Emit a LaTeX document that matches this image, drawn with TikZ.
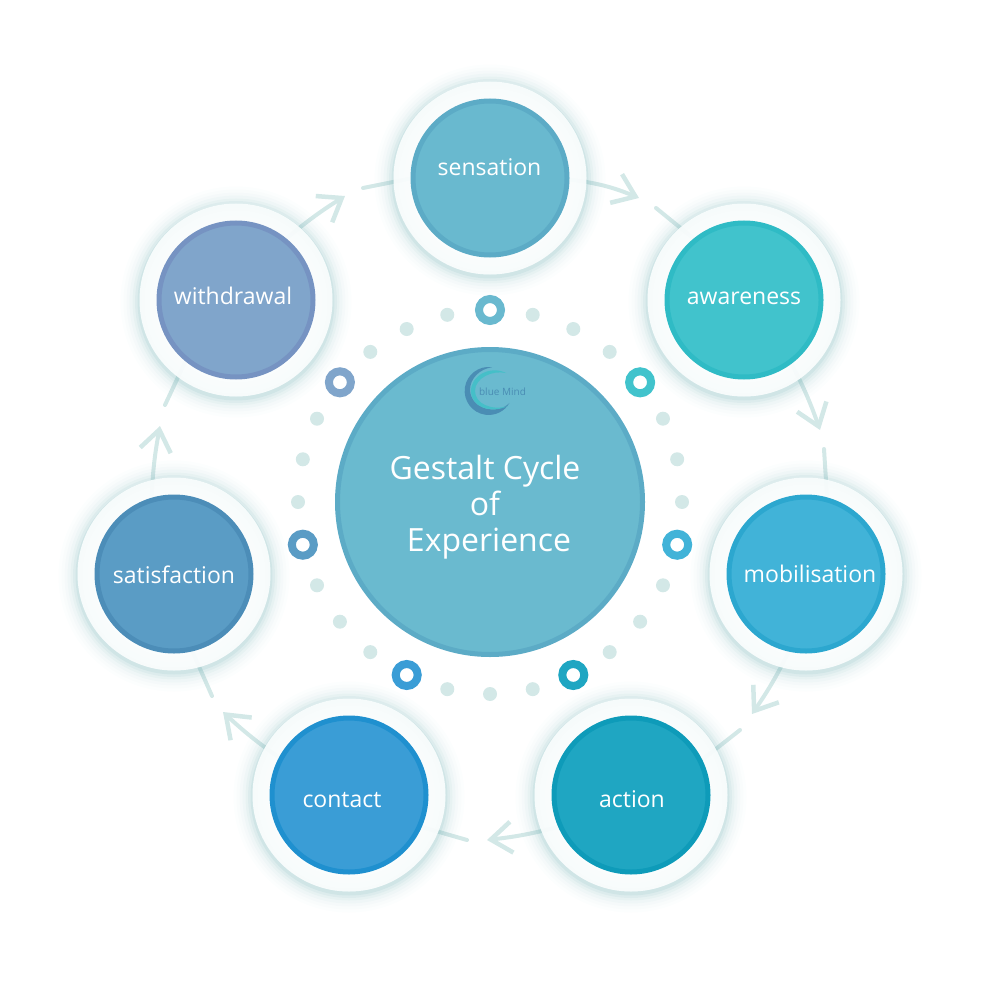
\documentclass[tikz,border=0pt]{standalone}
\usepackage{fontspec}
\setmainfont{Open Sans}
\usetikzlibrary{arrows.meta}

\pgfdeclarelayer{links}
\pgfsetlayers{links,main}

\definecolor{linktint}{HTML}{D3E8E7}
\definecolor{glowtint}{HTML}{7FB8BC}
\definecolor{ringfill}{HTML}{FAFDFD}
\definecolor{hubfill}{HTML}{6ABACF}
\definecolor{hubedge}{HTML}{5CABC6}
\definecolor{sensfill}{HTML}{69B9CF}
\definecolor{sensedge}{HTML}{5CABC6}
\definecolor{awarfill}{HTML}{41C3CC}
\definecolor{awaredge}{HTML}{2FBBC5}
\definecolor{mobifill}{HTML}{41B3D8}
\definecolor{mobiedge}{HTML}{2CA7CF}
\definecolor{actifill}{HTML}{1FA6C2}
\definecolor{actiedge}{HTML}{0E9BB9}
\definecolor{contfill}{HTML}{3A9DD6}
\definecolor{contedge}{HTML}{1F90CF}
\definecolor{satifill}{HTML}{5A9CC5}
\definecolor{satiedge}{HTML}{4C8DB8}
\definecolor{withfill}{HTML}{80A5CB}
\definecolor{withedge}{HTML}{7693C2}
\definecolor{logodark}{HTML}{4A8DB4}
\definecolor{logoteal}{HTML}{45BFC8}

\begin{document}
\begin{tikzpicture}[
  x=1pt,y=-1pt,
  glow/.style 2 args={
    preaction={draw=glowtint,draw opacity=#1,line width=#2,transform canvas={yshift=-2pt}}
  },
  ring/.style={
    circle,
    minimum size=193pt,
    inner sep=0pt,
    outer sep=0pt,
    fill=ringfill,
    fill opacity=0.93,
    glow={0.02}{38pt},
    glow={0.025}{32pt},
    glow={0.035}{26pt},
    glow={0.05}{20pt},
    glow={0.07}{14pt},
    glow={0.09}{9pt},
    glow={0.14}{4pt}
  },
  disc/.style={
    circle,
    minimum size=154pt,
    inner sep=0pt,
    outer sep=0pt,
    line width=5pt,
    draw=#1edge,
    fill=#1fill
  },
  hub/.style={
    circle,
    minimum size=305pt,
    inner sep=0pt,
    outer sep=0pt,
    line width=5pt,
    draw=hubedge,
    fill=hubfill
  },
  disc label/.style={
    text=white,
    inner sep=0pt,
    font=\fontsize{23}{28}\selectfont
  },
  title/.style={
    text=white,
    inner sep=0pt,
    align=center,
    font=\fontsize{32}{36}\selectfont
  },
  dot/.style={
    circle,
    fill=linktint,
    minimum size=14pt,
    inner sep=0pt
  },
  marker/.style={
    circle,
    draw=#1fill,
    fill=white,
    line width=8pt,
    minimum size=22pt,
    inner sep=0pt,
    outer sep=0pt
  },
  flow arrow/.style={
    -{Straight Barb[length=21pt,width=31pt,line width=4.5pt]},
    draw=linktint,
    line width=4pt
  },
  flow stub/.style={
    draw=linktint,
    line width=4pt,
    line cap=round
  }
]

\useasboundingbox (0,0) rectangle (1000,1000);

% centre
\node[hub] (hub) at (490,502) {};
\node[title] (hub-title) at (485,507) {Gestalt Cycle\\of\\\hspace*{8pt}Experience};

% logo
\fill[logodark] (492,367.2) arc[start angle=-82,end angle=-330,radius=24]
  .. controls (498,415) and (471,410) .. (470,390)
  .. controls (470,378) and (480,369) .. (492,367.2);
\fill[logoteal] (506,373) .. controls (490,365) and (470,376) .. (471,392)
  .. controls (472,407) and (490,414) .. (508,406)
  .. controls (492,411) and (475,404) .. (475,391)
  .. controls (475,378) and (492,370) .. (506,373);
\node[text=logodark,inner sep=0pt,font=\fontsize{10}{12}\selectfont] (logo) at (502.5,392) {blue Mind};

% dots and markers on the inner ring
\foreach \i in {1,2,3,5,6,7,9,10,11,13,14,15,17,18,19,21,22,23,25,26,27}
  \node[dot] (dot-\i) at ([shift={(-90+12.857*\i:192)}]hub) {};

\node[marker=sens] (mark-sens) at ([shift={(-90:192)}]hub) {};
\node[marker=awar] (mark-awar) at ([shift={(-38.57:192)}]hub) {};
\node[marker=mobi] (mark-mobi) at ([shift={(12.86:192)}]hub) {};
\node[marker=acti] (mark-acti) at ([shift={(64.29:192)}]hub) {};
\node[marker=cont] (mark-cont) at ([shift={(115.71:192)}]hub) {};
\node[marker=sati] (mark-sati) at ([shift={(167.14:192)}]hub) {};
\node[marker=with] (mark-with) at ([shift={(218.57:192)}]hub) {};

% stages
\node[ring] (sens-ring) at (490,178) {};
\node[disc=sens] (sensation) at (490,178) {};
\node[disc label] (sens-text) at (489.5,167) {sensation};

\node[ring] (awar-ring) at (744,300) {};
\node[disc=awar] (awareness) at (744,300) {};
\node[disc label] (awar-text) at (744,298) {awareness};

\node[ring] (mobi-ring) at (806,574) {};
\node[disc=mobi] (mobilisation) at (806,574) {};
\node[disc label] (mobi-text) at (810,574) {mobilisation};

\node[ring] (acti-ring) at (631,795) {};
\node[disc=acti] (action) at (631,795) {};
\node[disc label] (acti-text) at (632,799) {action};

\node[ring] (cont-ring) at (349,795) {};
\node[disc=cont] (contact) at (349,795) {};
\node[disc label] (cont-text) at (342,800) {contact};

\node[ring] (sati-ring) at (174,574) {};
\node[disc=sati] (satisfaction) at (174,574) {};
\node[disc label] (sati-text) at (174,575) {satisfaction};

\node[ring] (with-ring) at (236,300) {};
\node[disc=with] (withdrawal) at (236,300) {};
\node[disc label] (with-text) at (233,296) {withdrawal};

% tips and gaps of the connectors
\coordinate (tip-a) at (639,198);
\coordinate (gap-a) at (656,208);
\coordinate (tip-b) at (820,430);
\coordinate (gap-b) at (824,449);
\coordinate (tip-c) at (752,714);
\coordinate (gap-c) at (740,730);
\coordinate (tip-d) at (487,840);
\coordinate (gap-d) at (467,840);
\coordinate (tip-e) at (223,712);
\coordinate (gap-e) at (212,696);
\coordinate (tip-f) at (160,426);
\coordinate (gap-f) at (165,405);
\coordinate (tip-g) at (345,196);
\coordinate (gap-g) at (363,188);

\begin{pgfonlayer}{links}
  \draw[flow arrow] (sensation.-1) to[bend left=8] (tip-a);
  \draw[flow stub] (gap-a) -- (awareness.129);
  \draw[flow arrow] (awareness.-53) to[bend left=4] (tip-b);
  \draw[flow stub] (gap-b) -- (mobilisation.74);
  \draw[flow arrow] (mobilisation.-102.6) to[bend left=4] (tip-c);
  \draw[flow stub] (gap-c) -- (action.26.3);
  \draw[flow arrow] (action.204.3) to[bend left=4] (tip-d);
  \draw[flow stub] (gap-d) -- (contact.-24.3);
  \draw[flow arrow] (contact.152.7) to[bend left=4] (tip-e);
  \draw[flow stub] (gap-e) -- (satisfaction.-77.7);
  \draw[flow arrow] (satisfaction.107) to[bend left=4] (tip-f);
  \draw[flow stub] (gap-f) -- (withdrawal.230.6);
  \draw[flow arrow] (withdrawal.51.5) to[bend left=4] (tip-g);
  \draw[flow stub] (gap-g) -- (sensation.180);
\end{pgfonlayer}

\end{tikzpicture}
\end{document}
